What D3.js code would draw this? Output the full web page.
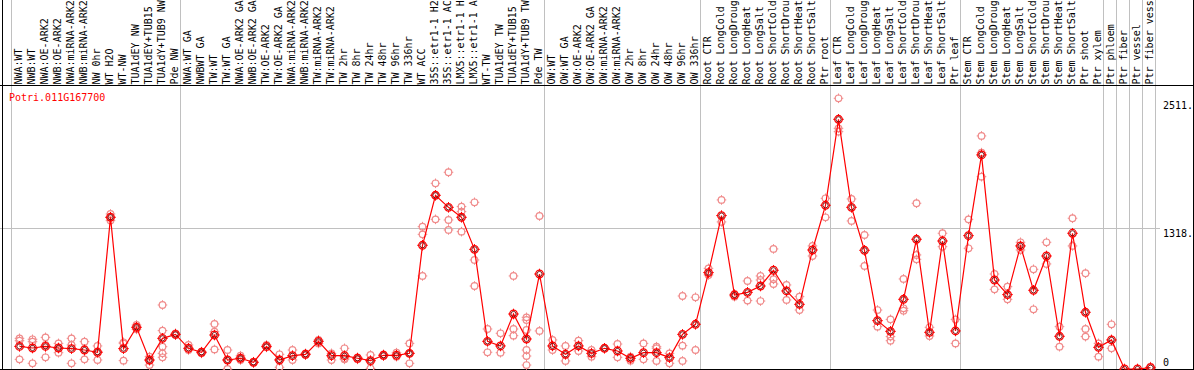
<!DOCTYPE html>
<html>
<head>
<meta charset="utf-8">
<script src="https://cdn.jsdelivr.net/npm/d3@7"></script>
<style>
html,body{margin:0;padding:0;background:#fff;}
svg{display:block;}
text{font-family:"DejaVu Sans Mono",monospace;font-size:10px;}
</style>
</head>
<body>
<svg id="chart" width="1194" height="370"></svg>
<script>
const geneName = "Potri.011G167700";

// sample labels as visible in the chart header (long names cut at the top edge)
const sampleLabels = [
  "NWA:WT","NWB:WT","NWA:OE-ARK2","NWB:OE-ARK2","NWA:miRNA-ARK2","NWB:miRNA-ARK2","NW 0hr","WT H2O","WT-NW","TUA1dEY NW","TUA1dEY+TUB15","TUA1dY+TUB9 NW","Pde NW",
  "NWA:WT GA","NWBWT GA","TW:WT","TW:WT GA","NWA:OE-ARK2 GA","NWB:OE-ARK2 GA","TW:OE-ARK2","TW:OE-ARK2 GA","NWA:miRNA-ARK2","NWB:miRNA-ARK2","TW:miRNA-ARK2","TW:miRNA-ARK2","TW 2hr","TW 8hr","TW 24hr","TW 48hr","TW 96hr","TW 336hr","WT ACC","35S::etr1-1 H2","35S::etr1-1 AC","LMX5::etr1-1 H","LMX5::etr1-1 A","WT-TW","TUA1dEY TW","TUA1dEY+TUB15","TUA1dY+TUB9 TW","Pde TW",
  "OW:WT","OW:WT GA","OW:OE-ARK2","OW:OE-ARK2 GA","OW:miRNA-ARK2","OW:miRNA-ARK2","OW 2hr","OW 8hr","OW 24hr","OW 48hr","OW 96hr","OW 336hr",
  "Root CTR","Root LongCold","Root LongDroug","Root LongHeat","Root LongSalt","Root ShortCold","Root ShortDrou","Root ShortHeat","Root ShortSalt","Ptr root",
  "Leaf CTR","Leaf LongCold","Leaf LongDroug","Leaf LongHeat","Leaf LongSalt","Leaf ShortCold","Leaf ShortDrou","Leaf ShortHeat","Leaf ShortSalt","Ptr leaf",
  "Stem CTR","Stem LongCold","Stem LongDroug","Stem LongHeat","Stem LongSalt","Stem ShortCold","Stem ShortDrou","Stem ShortHeat","Stem ShortSalt","Ptr shoot","Ptr xylem",
  "Ptr phloem","Ptr fiber","Ptr vessel","Ptr fiber vess"
];

// number of samples in each group (separated by vertical grid lines)
const groupSizes = [13, 28, 12, 10, 10, 11, 1, 1, 1, 1];

const meanValues = [
  211,196,211,196,190,177,156,1415,190,389,84,286,323,
  193,156,317,84,100,62,211,84,124,137,258,124,124,100,78,128,128,146,1154,1620,1508,1415,1116,258,215,513,280,886,
  215,137,215,146,193,168,100,152,152,106,323,417,
  899,1431,690,715,774,921,728,603,1110,1527,
  2329,1508,1107,451,351,650,1210,342,1194,355,
  1244,1997,830,694,1148,734,1054,305,1266,529,202,
  271,0,0,12
];

const replicateValues = [
  [286,264,90],[277,255,53],[295,224,109],[239,152,193],[286,224,53],[255,90,187],[215,84,165],[1446,1415,1384],[239,78,249],[411,389,370],[115,78,37],[597,358,208,146,109],[333,317],
  [224,177],[162,146],[420,348,183],[177,84,0],[124,100,84],[68,59],[224,202],[137,90,16],[177,84],[146,131],[271,239],[146,84],[193,90,100],[109,90],[131,68,6],[137,121],[152,115],[239,146,53],[1328,1256,868],[1732,1396,1620],[1835,1390,1297],[1515,1468,1281],[1555,1017,774],[373,156],[333,152],[868,373,311],[482,457,364,177,121,37],[1427,355],
  [271,177],[215,75],[264,168],[177,115],[193],[233,109],[115,78],[239,90],[208,193,75],[146,53],[681,218,75],[669,177],
  [939,877],[1577,1372],[700,675],[821,638],[868,830,634],[1120,837,793],[784,644],[675,550],[1148,1054],[1592,1415],
  [2525,2245,2214],[1586,1381],[1250,961],[550,395],[463,302,264],[840,566,544],[1546,1064,1023],[389,308],[1266,1141],[463,239],
  [1396,1126],[2174,2018,1794],[886,743],[768,650],[1182,1110],[930,557],[1182,980],[395,208],[1406,1148],[893,373,302],[239,115],
  [417,193],[],[],[22]
];

const yTickValues = [0, 1318, 2511];
const yTickLabels = ["0", "1318.", "2511."];

const W = 1194, H = 370;
const svg = d3.select("#chart");

const x = d3.scaleBand().domain(d3.range(sampleLabels.length)).range([11, 11 + 13 * sampleLabels.length]).paddingInner(0).paddingOuter(0);
const px = i => x(i) + 8.5;
const y = d3.scaleLinear().domain([0, 2511]).range([369, 99.8]);

// group boundaries
const bounds = [0];
groupSizes.forEach(s => bounds.push(bounds[bounds.length - 1] + s));
const boundX = k => (k < sampleLabels.length ? x(k) : x(sampleLabels.length - 1) + x.step());

// vertical grid lines
svg.append("g").selectAll("line").data(bounds).join("line")
  .attr("x1", k => Math.round(boundX(k)) + 0.5).attr("x2", k => Math.round(boundX(k)) + 0.5)
  .attr("y1", 0).attr("y2", 369)
  .attr("stroke", "#c0c0c0").attr("stroke-width", 1);

// horizontal grid line at middle tick
svg.append("line")
  .attr("x1", 0).attr("x2", 1160)
  .attr("y1", Math.round(y(1318)) + 0.5).attr("y2", Math.round(y(1318)) + 0.5)
  .attr("stroke", "#c0c0c0").attr("stroke-width", 1);

// frame lines
svg.append("line").attr("x1", 0).attr("x2", W).attr("y1", 85.5).attr("y2", 85.5).attr("stroke", "#000");
svg.append("line").attr("x1", 0).attr("x2", W).attr("y1", 369.5).attr("y2", 369.5).attr("stroke", "#000");
svg.append("line").attr("x1", 2.5).attr("x2", 2.5).attr("y1", 0).attr("y2", H).attr("stroke", "#000");
svg.append("line").attr("x1", 1193.5).attr("x2", 1193.5).attr("y1", 0).attr("y2", H).attr("stroke", "#000");

// sample labels (rotated)
svg.append("g").selectAll("text").data(sampleLabels).join("text")
  .attr("transform", (d, i) => `translate(${x(i) + 11},84.5) rotate(-90)`)
  .attr("text-anchor", "start")
  .attr("fill", "#000")
  .text(d => d);

// gene name
svg.append("text").attr("x", 9).attr("y", 101).attr("fill", "#ff0000").text(geneName);

// y axis labels
svg.append("g").selectAll("text").data(yTickValues).join("text")
  .attr("x", 1163)
  .attr("y", (d) => d === 0 ? y(d) - 3.5 : y(d) + 9)
  .attr("fill", "#000")
  .text((d, i) => yTickLabels[i]);

function marker(g, cx, cy, color, r, sw) {
  g.append("circle").attr("cx", cx).attr("cy", cy).attr("r", r)
    .attr("fill", "none").attr("stroke", color).attr("stroke-width", sw);
  const t = [[0, -1], [0, 1], [-1, 0], [1, 0]];
  t.forEach(([dx, dy]) => {
    g.append("line")
      .attr("x1", cx + dx * (r - 0.5)).attr("y1", cy + dy * (r - 0.5))
      .attr("x2", cx + dx * (r + 1.5)).attr("y2", cy + dy * (r + 1.5))
      .attr("stroke", color).attr("stroke-width", 1);
  });
}

// replicates
const repG = svg.append("g");
replicateValues.forEach((arr, i) => {
  arr.forEach(v => marker(repG, px(i), y(v), "#f08c8c", 3.3, 1.2));
});

// mean line
svg.append("path")
  .datum(meanValues)
  .attr("fill", "none").attr("stroke", "#ff0000").attr("stroke-width", 1.2)
  .attr("d", d3.line().x((d, i) => px(i)).y(d => y(d)));

// mean markers
const meanG = svg.append("g");
meanValues.forEach((v, i) => {
  marker(meanG, px(i), y(v), "#ff0000", 3.8, 1.3);
  meanG.append("circle").attr("cx", px(i)).attr("cy", y(v)).attr("r", 2.6)
    .attr("fill", "none").attr("stroke", "#700000").attr("stroke-width", 0.9);
});
</script>
</body>
</html>
